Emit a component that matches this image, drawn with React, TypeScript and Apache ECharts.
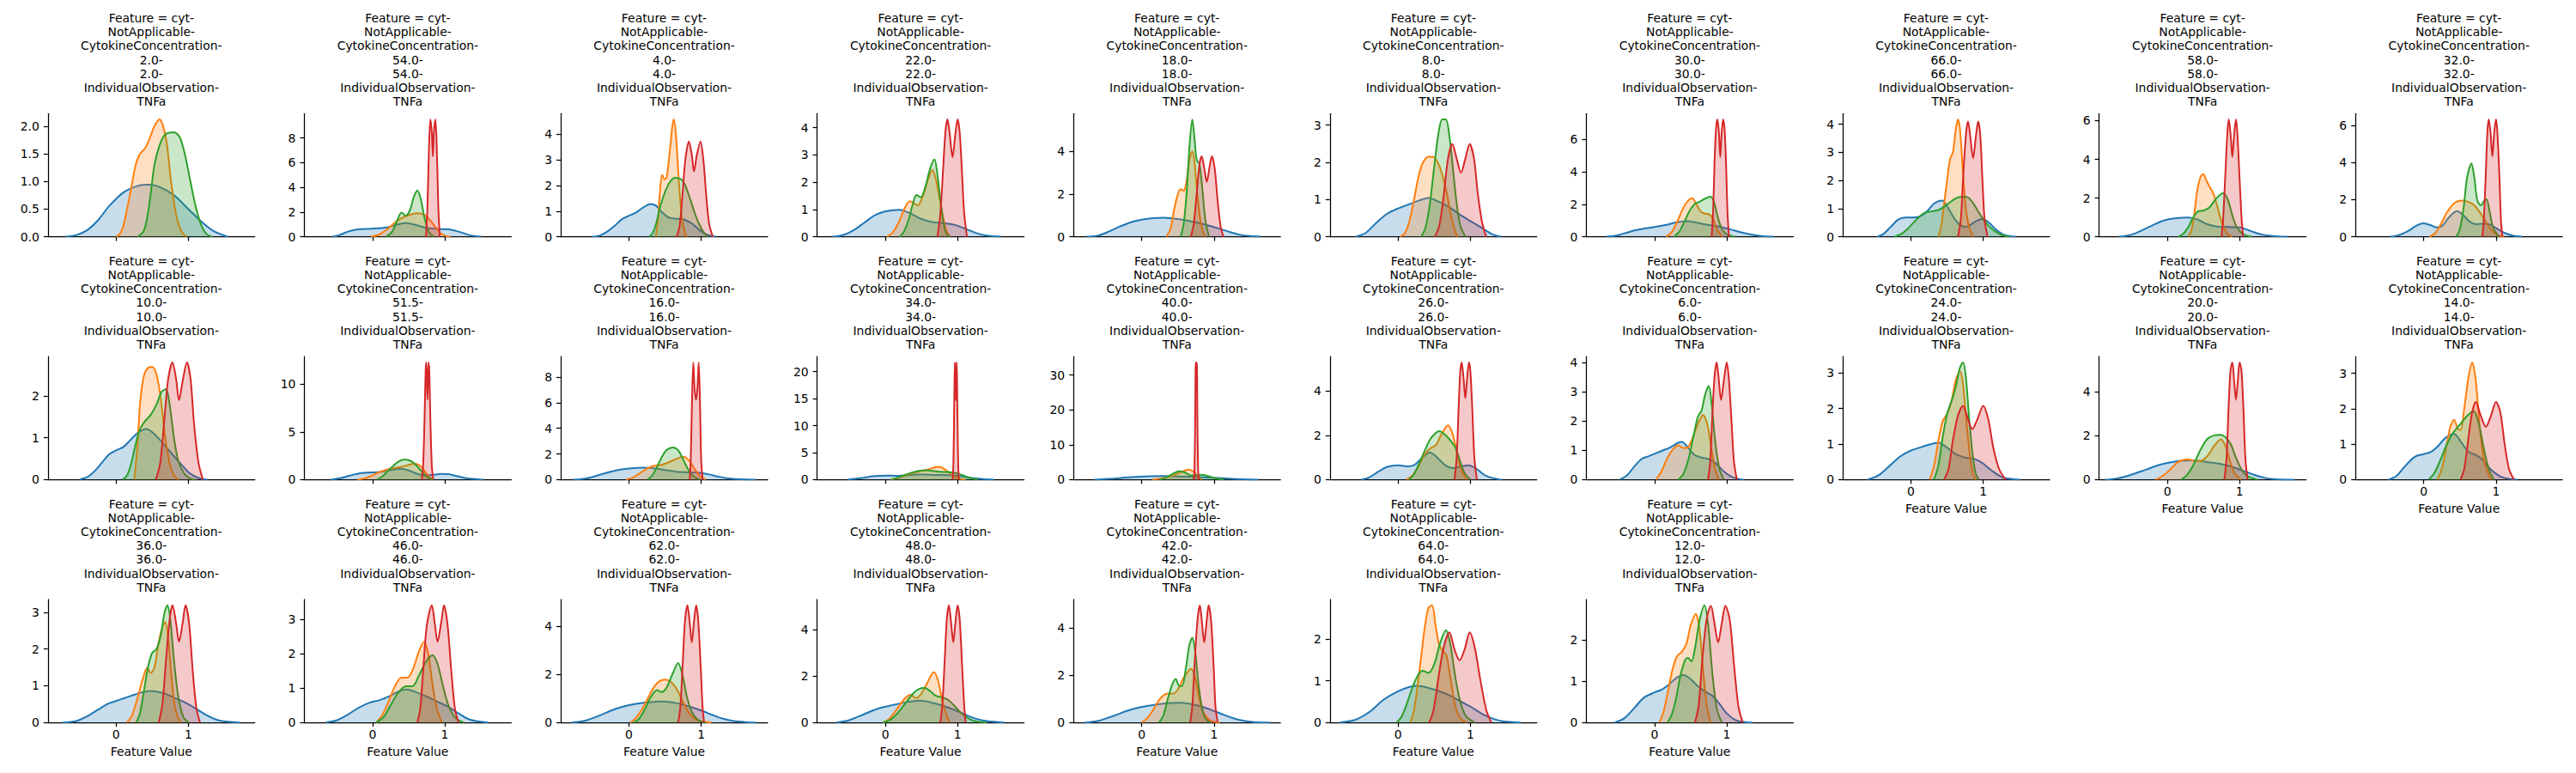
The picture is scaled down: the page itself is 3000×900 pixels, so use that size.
import React, { useEffect, useRef } from "react";
import * as echarts from "echarts";

type Pt = [number, number];

// ---- panel labels (CytokineConcentration), in facet order ----
const concentrations: string[] = [
  "2.0", "54.0", "4.0", "22.0", "18.0", "8.0", "30.0", "66.0", "58.0", "32.0",
  "10.0", "51.5", "16.0", "34.0", "40.0", "26.0", "6.0", "24.0", "20.0", "14.0",
  "36.0", "46.0", "62.0", "48.0", "42.0", "64.0", "12.0",
];

// y tick step per panel
const yTickSteps: number[] = [
  0.5, 2, 1, 1, 2, 1, 2, 1, 2, 2,
  1, 5, 2, 5, 10, 2, 1, 1, 2, 1,
  1, 1, 2, 2, 2, 1, 1,
];

const xTicks: number[] = [0, 1];

// ---- density curves: [x, density] ----
// 2.0
const blue_2: Pt[] = [[-0.7,0],[-0.55,0.03],[-0.4,0.12],[-0.25,0.3],[-0.1,0.55],[0.1,0.8],[0.3,0.92],[0.46,0.94],[0.6,0.9],[0.8,0.75],[1.0,0.5],[1.2,0.25],[1.35,0.1],[1.5,0.02],[1.55,0]];
const orange_2: Pt[] = [[0,0],[0.05,0.05],[0.1,0.2],[0.15,0.5],[0.2,0.82],[0.27,1.3],[0.33,1.5],[0.4,1.6],[0.47,1.8],[0.53,2.0],[0.6,2.12],[0.65,2.0],[0.7,1.7],[0.76,1.0],[0.83,0.4],[0.9,0.1],[0.97,0]];
const green_2: Pt[] = [[0.3,0],[0.38,0.1],[0.43,0.35],[0.48,0.8],[0.53,1.3],[0.6,1.65],[0.68,1.85],[0.8,1.89],[0.88,1.8],[0.95,1.5],[1.02,1.05],[1.1,0.55],[1.18,0.2],[1.25,0.05],[1.33,0]];
const red_2: Pt[] = [];
// 54.0
const blue_54: Pt[] = [[-0.55,0],[-0.45,0.15],[-0.35,0.4],[-0.2,0.6],[0,0.65],[0.2,0.75],[0.35,1.0],[0.47,1.1],[0.6,0.95],[0.75,0.7],[0.9,0.62],[1.05,0.6],[1.2,0.4],[1.35,0.12],[1.5,0]];
const orange_54: Pt[] = [[-0.02,0],[0.1,0.2],[0.2,0.6],[0.3,1.1],[0.4,1.5],[0.5,1.75],[0.62,1.9],[0.72,1.75],[0.8,1.3],[0.88,0.7],[0.95,0.25],[1.02,0.05],[1.08,0]];
const green_54: Pt[] = [[0.19,0],[0.27,0.4],[0.34,1.3],[0.4,1.95],[0.46,1.7],[0.52,2.2],[0.57,3.2],[0.62,3.75],[0.67,3.0],[0.72,1.5],[0.78,0.4],[0.85,0]];
const red_54: Pt[] = [[0.74,0],[0.76,2.5],[0.78,7],[0.8,9.5],[0.82,8.5],[0.835,6.5],[0.85,8.5],[0.87,9.5],[0.89,7],[0.91,2.5],[0.93,0]];
// 4.0
const blue_4: Pt[] = [[-0.51,0],[-0.4,0.05],[-0.3,0.2],[-0.2,0.42],[-0.1,0.68],[0,0.82],[0.1,0.95],[0.2,1.15],[0.3,1.28],[0.38,1.2],[0.46,0.95],[0.55,0.75],[0.68,0.7],[0.78,0.65],[0.88,0.5],[0.98,0.25],[1.08,0.08],[1.2,0]];
const orange_4: Pt[] = [[0.37,0],[0.4,0.6],[0.43,1.8],[0.46,2.42],[0.49,2.25],[0.52,2.3],[0.56,3.2],[0.6,4.3],[0.62,4.58],[0.65,4.0],[0.69,2.2],[0.73,0.8],[0.77,0.2],[0.8,0]];
const green_4: Pt[] = [[0.28,0],[0.33,0.15],[0.38,0.55],[0.43,1.15],[0.5,1.75],[0.57,2.15],[0.64,2.3],[0.72,2.25],[0.78,2.0],[0.85,1.45],[0.92,0.85],[0.98,0.45],[1.04,0.15],[1.1,0]];
const red_4: Pt[] = [[0.66,0],[0.7,0.4],[0.74,1.6],[0.78,3.0],[0.83,3.72],[0.87,3.2],[0.9,2.55],[0.94,3.2],[0.99,3.72],[1.03,3.0],[1.07,1.6],[1.11,0.5],[1.16,0]];
// 22.0
const blue_22: Pt[] = [[-0.73,0],[-0.6,0.05],[-0.45,0.22],[-0.3,0.5],[-0.15,0.78],[0,0.93],[0.2,0.99],[0.35,0.85],[0.5,0.65],[0.65,0.54],[0.8,0.5],[0.95,0.44],[1.1,0.3],[1.25,0.14],[1.4,0.04],[1.6,0]];
const orange_22: Pt[] = [[0.02,0],[0.1,0.15],[0.18,0.5],[0.26,1.0],[0.34,1.3],[0.4,1.22],[0.45,1.15],[0.52,1.5],[0.58,2.0],[0.65,2.45],[0.7,2.1],[0.75,1.4],[0.8,0.7],[0.85,0.2],[0.89,0]];
const green_22: Pt[] = [[0.2,0],[0.26,0.2],[0.32,0.6],[0.38,1.2],[0.43,1.53],[0.49,1.45],[0.55,1.8],[0.62,2.5],[0.68,2.84],[0.72,2.3],[0.76,1.4],[0.8,0.6],[0.84,0.15],[0.89,0]];
const red_22: Pt[] = [[0.72,0],[0.76,0.8],[0.8,2.5],[0.83,3.8],[0.86,4.3],[0.89,3.8],[0.93,2.92],[0.97,3.8],[1.0,4.3],[1.03,3.8],[1.06,2.4],[1.09,0.9],[1.13,0]];
// 18.0
const blue_18: Pt[] = [[-0.76,0],[-0.6,0.06],[-0.45,0.25],[-0.3,0.48],[-0.15,0.68],[0,0.8],[0.15,0.87],[0.3,0.89],[0.45,0.85],[0.6,0.78],[0.75,0.68],[0.9,0.55],[1.05,0.4],[1.2,0.24],[1.35,0.1],[1.5,0.03],[1.65,0]];
const orange_18: Pt[] = [[0.34,0],[0.4,0.4],[0.45,1.3],[0.5,2.0],[0.54,2.23],[0.58,2.15],[0.62,2.6],[0.66,3.6],[0.7,4.0],[0.73,3.5],[0.77,2.0],[0.81,0.8],[0.85,0.2],[0.88,0]];
const green_18: Pt[] = [[0.54,0],[0.58,0.6],[0.62,2.0],[0.66,4.2],[0.7,5.49],[0.73,4.6],[0.76,3.6],[0.8,3.4],[0.84,2.2],[0.88,0.8],[0.93,0]];
const red_18: Pt[] = [[0.68,0],[0.72,0.6],[0.76,2.0],[0.8,3.4],[0.83,3.77],[0.87,3.1],[0.9,2.57],[0.94,3.3],[0.97,3.77],[1.01,3.2],[1.05,1.7],[1.09,0.5],[1.13,0]];
// 8.0
const blue_8: Pt[] = [[-0.59,0],[-0.45,0.1],[-0.3,0.38],[-0.15,0.62],[0,0.76],[0.15,0.87],[0.3,0.98],[0.42,1.04],[0.55,0.95],[0.7,0.8],[0.85,0.6],[1.0,0.42],[1.15,0.25],[1.3,0.07],[1.43,0]];
const orange_8: Pt[] = [[0.03,0],[0.1,0.12],[0.16,0.45],[0.22,1.0],[0.28,1.6],[0.34,1.98],[0.42,2.15],[0.48,2.15],[0.56,1.95],[0.62,1.6],[0.68,1.1],[0.74,0.5],[0.78,0.2],[0.82,0]];
const green_8: Pt[] = [[0.32,0],[0.38,0.25],[0.44,0.9],[0.5,1.9],[0.56,2.8],[0.61,3.15],[0.66,3.15],[0.71,2.7],[0.76,1.8],[0.81,0.9],[0.86,0.3],[0.93,0]];
const red_8: Pt[] = [[0.51,0],[0.57,0.3],[0.63,1.1],[0.69,2.1],[0.75,2.49],[0.81,2.1],[0.87,1.72],[0.93,2.1],[0.99,2.49],[1.05,2.1],[1.1,1.2],[1.16,0.4],[1.22,0]];
// 30.0
const blue_30: Pt[] = [[-0.66,0],[-0.5,0.1],[-0.35,0.3],[-0.2,0.45],[0,0.6],[0.15,0.72],[0.3,0.88],[0.45,0.96],[0.6,0.85],[0.75,0.72],[0.9,0.62],[1.05,0.45],[1.2,0.27],[1.35,0.12],[1.5,0.03],[1.65,0]];
const orange_30: Pt[] = [[0.16,0],[0.24,0.3],[0.32,1.0],[0.4,1.8],[0.47,2.25],[0.52,2.37],[0.58,2.0],[0.64,1.55],[0.7,1.42],[0.76,1.38],[0.82,1.0],[0.87,0.4],[0.94,0]];
const green_30: Pt[] = [[0.27,0],[0.34,0.3],[0.41,0.9],[0.48,1.55],[0.55,2.0],[0.62,2.15],[0.7,2.35],[0.77,2.47],[0.82,2.2],[0.87,1.3],[0.93,0.5],[1.0,0.15],[1.11,0]];
const red_30: Pt[] = [[0.79,0],[0.81,1.5],[0.83,4.5],[0.85,6.6],[0.87,7.23],[0.89,6.5],[0.91,4.9],[0.93,6.5],[0.95,7.23],[0.97,6.6],[0.99,4.5],[1.01,1.5],[1.03,0]];
// 66.0
const blue_66: Pt[] = [[-0.47,0],[-0.38,0.1],[-0.28,0.35],[-0.18,0.6],[-0.08,0.68],[0.02,0.68],[0.12,0.72],[0.22,0.9],[0.32,1.18],[0.43,1.29],[0.52,1.0],[0.6,0.65],[0.68,0.42],[0.76,0.35],[0.84,0.45],[0.92,0.58],[0.99,0.63],[1.08,0.5],[1.18,0.25],[1.3,0.06],[1.45,0]];
const orange_66: Pt[] = [[0.38,0],[0.42,0.4],[0.46,1.2],[0.5,2.0],[0.54,2.75],[0.58,3.0],[0.62,3.8],[0.65,4.17],[0.68,3.8],[0.72,2.3],[0.76,1.0],[0.81,0.3],[0.86,0]];
const green_66: Pt[] = [[-0.23,0],[-0.12,0.12],[-0.02,0.35],[0.08,0.62],[0.18,0.84],[0.28,0.9],[0.38,0.95],[0.48,1.1],[0.58,1.3],[0.68,1.42],[0.77,1.42],[0.86,1.2],[0.94,0.86],[1.02,0.55],[1.12,0.28],[1.24,0.08],[1.36,0]];
const red_66: Pt[] = [[0.65,0],[0.69,0.6],[0.72,2.0],[0.76,3.6],[0.79,4.1],[0.82,3.6],[0.86,2.8],[0.9,3.6],[0.93,4.1],[0.96,3.6],[0.99,2.0],[1.02,0.6],[1.06,0]];
// 58.0
const blue_58: Pt[] = [[-0.67,0],[-0.5,0.1],[-0.35,0.33],[-0.2,0.6],[-0.05,0.84],[0.1,0.95],[0.29,0.99],[0.42,0.88],[0.55,0.65],[0.7,0.52],[0.85,0.5],[1.0,0.48],[1.15,0.3],[1.3,0.12],[1.45,0.04],[1.66,0]];
const orange_58: Pt[] = [[0.29,0],[0.33,0.3],[0.37,1.1],[0.41,2.3],[0.46,3.1],[0.5,3.24],[0.54,2.9],[0.59,2.55],[0.64,2.2],[0.69,1.6],[0.74,0.9],[0.8,0.35],[0.85,0.1],[0.9,0]];
const green_58: Pt[] = [[0.15,0],[0.22,0.15],[0.29,0.5],[0.35,0.95],[0.42,1.3],[0.5,1.35],[0.58,1.5],[0.66,1.9],[0.74,2.2],[0.78,2.25],[0.84,1.9],[0.9,1.1],[0.96,0.5],[1.04,0.15],[1.17,0]];
const red_58: Pt[] = [[0.75,0],[0.77,0.8],[0.8,3.0],[0.83,5.3],[0.85,6.06],[0.875,5.3],[0.9,4.12],[0.925,5.3],[0.95,6.06],[0.97,5.3],[1.0,3.0],[1.03,0.8],[1.05,0]];
// 32.0
const blue_32: Pt[] = [[-0.46,0],[-0.35,0.08],[-0.22,0.3],[-0.1,0.6],[0,0.72],[0.1,0.62],[0.18,0.5],[0.26,0.6],[0.35,1.05],[0.46,1.38],[0.55,1.15],[0.64,0.8],[0.72,0.68],[0.82,0.7],[0.92,0.65],[1.02,0.42],[1.12,0.2],[1.24,0.05],[1.36,0]];
const orange_32: Pt[] = [[0.08,0],[0.16,0.2],[0.24,0.7],[0.32,1.3],[0.42,1.8],[0.53,1.95],[0.62,1.88],[0.7,1.7],[0.78,1.3],[0.86,0.8],[0.94,0.35],[1.02,0.1],[1.11,0]];
const green_32: Pt[] = [[0.45,0],[0.5,0.4],[0.55,1.5],[0.6,3.2],[0.66,3.96],[0.7,3.2],[0.74,2.0],[0.79,1.69],[0.84,1.95],[0.87,2.02],[0.91,1.4],[0.96,0.5],[1.04,0]];
const red_32: Pt[] = [[0.81,0],[0.83,0.8],[0.86,3.5],[0.88,5.6],[0.9,6.33],[0.925,5.6],[0.95,4.32],[0.975,5.6],[1.0,6.33],[1.02,5.6],[1.045,3.5],[1.07,0.8],[1.09,0]];
// 10.0
const blue_10: Pt[] = [[-0.51,0],[-0.4,0.06],[-0.3,0.2],[-0.2,0.4],[-0.1,0.6],[0,0.7],[0.1,0.78],[0.2,0.95],[0.3,1.12],[0.42,1.21],[0.52,1.1],[0.62,0.92],[0.72,0.72],[0.82,0.52],[0.92,0.33],[1.02,0.15],[1.14,0.04],[1.26,0]];
const orange_10: Pt[] = [[0.25,0],[0.29,0.7],[0.33,1.8],[0.38,2.45],[0.44,2.67],[0.5,2.69],[0.56,2.5],[0.62,1.9],[0.68,1.0],[0.74,0.4],[0.8,0.1],[0.86,0]];
const green_10: Pt[] = [[0.09,0],[0.15,0.1],[0.21,0.4],[0.27,0.85],[0.33,1.2],[0.4,1.4],[0.48,1.55],[0.56,1.8],[0.63,2.1],[0.69,2.16],[0.74,1.8],[0.8,1.0],[0.86,0.45],[0.94,0.15],[1.02,0.03],[1.09,0]];
const red_10: Pt[] = [[0.55,0],[0.61,0.4],[0.67,1.5],[0.72,2.4],[0.78,2.8],[0.83,2.4],[0.87,1.9],[0.92,2.35],[0.98,2.8],[1.03,2.4],[1.08,1.3],[1.14,0.4],[1.2,0]];
// 51.5
const blue_51_5: Pt[] = [[-0.58,0],[-0.45,0.15],[-0.3,0.45],[-0.15,0.68],[0,0.75],[0.15,0.85],[0.28,1.05],[0.4,1.14],[0.52,0.9],[0.62,0.6],[0.73,0.45],[0.85,0.5],[0.95,0.6],[1.05,0.58],[1.15,0.4],[1.3,0.15],[1.53,0]];
const orange_51_5: Pt[] = [[-0.21,0],[-0.1,0.15],[0,0.45],[0.1,0.8],[0.2,1.05],[0.3,1.2],[0.4,1.35],[0.5,1.55],[0.58,1.65],[0.66,1.45],[0.72,0.9],[0.77,0.4],[0.82,0]];
const green_51_5: Pt[] = [[0.06,0],[0.13,0.3],[0.2,0.8],[0.28,1.4],[0.36,1.9],[0.45,2.1],[0.53,1.95],[0.6,1.55],[0.67,0.95],[0.73,0.45],[0.79,0.15],[0.85,0]];
const red_51_5: Pt[] = [[0.68,0],[0.7,1.5],[0.72,6.5],[0.735,11.5],[0.745,12.3],[0.76,8.4],[0.775,12.3],[0.785,11.5],[0.8,6.5],[0.82,1.5],[0.84,0]];
// 16.0
const blue_16: Pt[] = [[-0.77,0],[-0.6,0.08],[-0.45,0.3],[-0.3,0.55],[-0.15,0.75],[0,0.86],[0.2,0.93],[0.35,0.88],[0.5,0.75],[0.65,0.62],[0.8,0.57],[0.95,0.55],[1.1,0.42],[1.25,0.22],[1.4,0.08],[1.55,0.02],[1.75,0]];
const orange_16: Pt[] = [[-0.04,0],[0.05,0.15],[0.15,0.5],[0.25,0.85],[0.35,1.08],[0.45,1.15],[0.55,1.35],[0.65,1.6],[0.75,1.78],[0.83,1.5],[0.9,0.9],[0.97,0.35],[1.06,0]];
const green_16: Pt[] = [[0.26,0],[0.32,0.3],[0.38,0.9],[0.45,1.7],[0.52,2.3],[0.61,2.51],[0.68,2.3],[0.74,1.7],[0.8,1.0],[0.86,0.45],[0.92,0.15],[0.99,0]];
const red_16: Pt[] = [[0.84,0],[0.855,1.5],[0.87,5.5],[0.89,9.15],[0.91,7.0],[0.928,6.22],[0.946,7.0],[0.966,9.15],[0.985,5.5],[1.0,1.5],[1.02,0]];
// 34.0
const blue_34: Pt[] = [[-0.52,0],[-0.35,0.25],[-0.15,0.65],[0,0.75],[0.15,0.7],[0.3,0.8],[0.45,0.95],[0.6,0.9],[0.75,0.85],[0.9,0.8],[1.05,0.6],[1.2,0.3],[1.35,0.1],[1.5,0]];
const orange_34: Pt[] = [[0.07,0],[0.2,0.4],[0.3,0.9],[0.4,1.3],[0.5,1.6],[0.6,1.9],[0.68,2.25],[0.74,2.37],[0.8,2.1],[0.88,1.3],[0.95,0.6],[1.03,0.15],[1.11,0]];
const green_34: Pt[] = [[0.08,0],[0.18,0.4],[0.28,0.9],[0.38,1.35],[0.48,1.65],[0.56,1.74],[0.66,1.6],[0.76,1.45],[0.86,1.4],[0.96,1.25],[1.06,0.85],[1.16,0.35],[1.28,0]];
const red_34: Pt[] = [[0.93,0],[0.94,2],[0.95,10],[0.958,19],[0.963,21.7],[0.975,14.7],[0.987,21.7],[0.992,19],[1.0,10],[1.01,2],[1.02,0]];
// 40.0
const blue_40: Pt[] = [[-0.65,0],[-0.4,0.3],[-0.15,0.7],[0.1,0.95],[0.3,1.0],[0.5,0.9],[0.75,0.75],[1.0,0.55],[1.2,0.3],[1.4,0.1],[1.61,0]];
const orange_40: Pt[] = [[0.15,0],[0.3,0.5],[0.45,1.3],[0.55,2.2],[0.65,2.85],[0.72,2.2],[0.78,0.8],[0.83,0]];
const green_40: Pt[] = [[0.25,0],[0.35,0.7],[0.45,1.9],[0.52,2.45],[0.6,2.0],[0.68,1.2],[0.75,1.2],[0.83,1.4],[0.92,1.0],[1.02,0.35],[1.14,0]];
const red_40: Pt[] = [[0.72,0],[0.73,3],[0.74,18],[0.745,32],[0.75,33.6],[0.755,30],[0.76,33.6],[0.765,32],[0.77,18],[0.78,3],[0.79,0]];
// 26.0
const blue_26: Pt[] = [[-0.51,0],[-0.4,0.1],[-0.28,0.35],[-0.15,0.58],[0,0.65],[0.12,0.6],[0.22,0.65],[0.32,0.95],[0.44,1.23],[0.54,1.0],[0.64,0.68],[0.76,0.52],[0.88,0.6],[0.97,0.65],[1.08,0.5],[1.2,0.2],[1.32,0.06],[1.44,0]];
const orange_26: Pt[] = [[0.12,0],[0.2,0.2],[0.28,0.6],[0.36,1.1],[0.44,1.4],[0.52,1.55],[0.6,2.05],[0.69,2.45],[0.76,2.0],[0.82,1.1],[0.88,0.4],[0.95,0]];
const green_26: Pt[] = [[0.15,0],[0.22,0.25],[0.3,0.8],[0.38,1.4],[0.46,1.9],[0.57,2.19],[0.66,2.0],[0.74,1.7],[0.8,1.4],[0.86,0.8],[0.92,0.3],[1.0,0]];
const red_26: Pt[] = [[0.78,0],[0.81,1.0],[0.84,3.5],[0.86,4.9],[0.88,5.3],[0.905,4.6],[0.93,3.68],[0.955,4.6],[0.98,5.3],[1.0,4.9],[1.025,3.3],[1.055,1.0],[1.09,0]];
// 6.0
const blue_6: Pt[] = [[-0.48,0],[-0.38,0.15],[-0.28,0.45],[-0.18,0.7],[-0.08,0.8],[0.02,0.9],[0.12,1.0],[0.22,1.1],[0.32,1.25],[0.38,1.29],[0.46,1.1],[0.55,0.85],[0.65,0.75],[0.75,0.7],[0.85,0.55],[0.95,0.3],[1.05,0.12],[1.15,0.03],[1.23,0]];
const orange_6: Pt[] = [[0.02,0],[0.1,0.3],[0.18,0.75],[0.26,1.05],[0.33,1.17],[0.4,1.08],[0.46,1.1],[0.53,1.45],[0.6,1.9],[0.67,2.2],[0.73,1.9],[0.79,1.0],[0.84,0.35],[0.89,0]];
const green_6: Pt[] = [[0.33,0],[0.4,0.2],[0.47,0.7],[0.54,1.5],[0.6,2.15],[0.65,2.35],[0.7,2.9],[0.75,3.2],[0.79,2.6],[0.84,1.3],[0.9,0.35],[0.96,0]];
const red_6: Pt[] = [[0.74,0],[0.77,0.6],[0.8,2.2],[0.83,3.5],[0.86,4.0],[0.89,3.4],[0.92,2.72],[0.96,3.4],[1.0,4.0],[1.03,3.4],[1.07,1.8],[1.1,0.6],[1.14,0]];
// 24.0
const blue_24: Pt[] = [[-0.6,0],[-0.45,0.12],[-0.3,0.38],[-0.15,0.65],[0,0.82],[0.15,0.92],[0.28,1.0],[0.38,1.04],[0.5,0.9],[0.62,0.72],[0.75,0.62],[0.88,0.58],[1.0,0.45],[1.12,0.25],[1.25,0.08],[1.38,0.02],[1.51,0]];
const orange_24: Pt[] = [[0.26,0],[0.32,0.4],[0.38,1.1],[0.44,1.65],[0.5,1.85],[0.56,2.2],[0.62,2.8],[0.68,3.05],[0.72,2.7],[0.77,1.6],[0.82,0.6],[0.86,0.15],[0.9,0]];
const green_24: Pt[] = [[0.32,0],[0.38,0.4],[0.44,1.2],[0.5,1.85],[0.56,2.2],[0.62,2.6],[0.67,3.1],[0.72,3.3],[0.76,2.9],[0.81,1.6],[0.86,0.6],[0.9,0.15],[0.94,0]];
const red_24: Pt[] = [[0.46,0],[0.52,0.3],[0.58,1.1],[0.65,1.8],[0.72,2.08],[0.79,1.7],[0.85,1.42],[0.92,1.7],[1.0,2.08],[1.07,1.7],[1.14,0.9],[1.22,0.3],[1.31,0]];
// 20.0
const blue_20: Pt[] = [[-0.86,0],[-0.7,0.05],[-0.5,0.22],[-0.3,0.45],[-0.1,0.68],[0.1,0.82],[0.3,0.88],[0.45,0.85],[0.6,0.78],[0.75,0.7],[0.9,0.58],[1.05,0.4],[1.2,0.22],[1.35,0.08],[1.5,0.02],[1.76,0]];
const orange_20: Pt[] = [[-0.16,0],[-0.05,0.2],[0.05,0.5],[0.15,0.8],[0.28,0.93],[0.38,0.85],[0.46,0.85],[0.56,1.1],[0.65,1.55],[0.74,1.84],[0.81,1.5],[0.87,0.8],[0.93,0.3],[1.02,0]];
const green_20: Pt[] = [[0.19,0],[0.27,0.2],[0.35,0.6],[0.45,1.3],[0.55,1.85],[0.65,2.02],[0.73,2.04],[0.8,1.95],[0.88,1.6],[0.95,1.0],[1.02,0.5],[1.1,0.18],[1.25,0]];
const red_20: Pt[] = [[0.79,0],[0.82,1.0],[0.85,3.5],[0.875,5.0],[0.9,5.35],[0.925,4.5],[0.95,3.64],[0.975,4.5],[1.0,5.35],[1.025,5.0],[1.05,3.5],[1.08,1.0],[1.11,0]];
// 14.0
const blue_14: Pt[] = [[-0.49,0],[-0.38,0.1],[-0.25,0.4],[-0.12,0.65],[0,0.72],[0.1,0.78],[0.2,0.95],[0.3,1.18],[0.42,1.29],[0.52,1.05],[0.62,0.78],[0.72,0.7],[0.82,0.55],[0.92,0.3],[1.05,0.1],[1.18,0.02],[1.3,0]];
const orange_14: Pt[] = [[0.19,0],[0.25,0.3],[0.31,0.9],[0.37,1.5],[0.42,1.69],[0.47,1.45],[0.51,1.4],[0.56,2.0],[0.62,2.9],[0.67,3.31],[0.72,2.8],[0.78,1.4],[0.84,0.5],[0.93,0]];
const green_14: Pt[] = [[0.07,0],[0.15,0.2],[0.23,0.55],[0.31,0.95],[0.4,1.3],[0.5,1.55],[0.6,1.8],[0.69,1.93],[0.76,1.6],[0.83,0.9],[0.9,0.3],[0.97,0]];
const red_14: Pt[] = [[0.51,0],[0.56,0.3],[0.62,1.2],[0.67,1.9],[0.72,2.19],[0.79,1.8],[0.86,1.49],[0.93,1.8],[1.0,2.19],[1.06,1.9],[1.12,1.0],[1.18,0.3],[1.25,0]];
// 36.0
const blue_36: Pt[] = [[-0.74,0],[-0.55,0.04],[-0.4,0.17],[-0.25,0.35],[-0.1,0.52],[0.05,0.62],[0.2,0.72],[0.35,0.82],[0.49,0.86],[0.65,0.8],[0.8,0.68],[0.95,0.55],[1.1,0.38],[1.25,0.2],[1.4,0.07],[1.55,0.02],[1.71,0]];
const orange_36: Pt[] = [[0.15,0],[0.22,0.2],[0.3,0.7],[0.37,1.2],[0.43,1.49],[0.48,1.35],[0.53,1.5],[0.59,2.2],[0.64,2.6],[0.68,2.74],[0.72,2.3],[0.76,1.4],[0.8,0.6],[0.85,0.15],[0.9,0]];
const green_36: Pt[] = [[0.28,0],[0.33,0.25],[0.38,0.8],[0.44,1.5],[0.5,1.9],[0.56,2.0],[0.62,2.4],[0.67,3.0],[0.71,3.19],[0.75,2.8],[0.8,1.7],[0.86,0.7],[0.93,0.15],[1.01,0]];
const red_36: Pt[] = [[0.59,0],[0.64,0.5],[0.69,1.7],[0.74,2.8],[0.78,3.19],[0.83,2.7],[0.87,2.2],[0.92,2.7],[0.96,3.19],[1.01,2.7],[1.06,1.4],[1.11,0.4],[1.16,0]];
// 46.0
const blue_46: Pt[] = [[-0.65,0],[-0.5,0.06],[-0.35,0.22],[-0.2,0.42],[-0.05,0.57],[0.1,0.65],[0.25,0.78],[0.38,0.92],[0.47,0.96],[0.6,0.88],[0.75,0.75],[0.9,0.6],[1.05,0.45],[1.2,0.25],[1.35,0.08],[1.6,0]];
const orange_46: Pt[] = [[0.05,0],[0.13,0.2],[0.22,0.6],[0.31,1.05],[0.4,1.3],[0.48,1.3],[0.56,1.55],[0.64,2.05],[0.71,2.34],[0.77,2.0],[0.83,1.1],[0.89,0.4],[0.96,0]];
const green_46: Pt[] = [[0.05,0],[0.15,0.15],[0.25,0.5],[0.35,0.85],[0.46,1.05],[0.55,1.05],[0.65,1.4],[0.75,1.8],[0.83,1.95],[0.9,1.7],[0.97,1.1],[1.05,0.5],[1.14,0.15],[1.26,0]];
const red_46: Pt[] = [[0.62,0],[0.66,0.4],[0.7,1.5],[0.75,2.8],[0.82,3.4],[0.86,2.9],[0.9,2.34],[0.95,2.9],[0.99,3.4],[1.04,2.8],[1.09,1.5],[1.14,0.4],[1.19,0]];
// 62.0
const blue_62: Pt[] = [[-0.79,0],[-0.6,0.08],[-0.4,0.3],[-0.2,0.55],[0,0.72],[0.2,0.82],[0.4,0.87],[0.55,0.86],[0.7,0.78],[0.85,0.65],[1.0,0.5],[1.15,0.32],[1.3,0.16],[1.45,0.06],[1.6,0.02],[1.76,0]];
const orange_62: Pt[] = [[0.02,0],[0.1,0.2],[0.18,0.55],[0.26,1.0],[0.34,1.45],[0.42,1.72],[0.5,1.79],[0.58,1.7],[0.66,1.4],[0.74,0.9],[0.82,0.45],[0.9,0.18],[1.0,0.05],[1.14,0]];
const green_62: Pt[] = [[0.07,0],[0.14,0.15],[0.22,0.55],[0.3,1.05],[0.39,1.35],[0.45,1.27],[0.52,1.45],[0.6,2.0],[0.68,2.47],[0.74,2.0],[0.8,1.1],[0.87,0.45],[0.95,0.12],[1.06,0]];
const red_62: Pt[] = [[0.68,0],[0.71,0.6],[0.74,2.2],[0.775,4.2],[0.81,4.88],[0.84,4.2],[0.87,3.33],[0.9,4.2],[0.93,4.88],[0.96,4.2],[0.995,2.2],[1.02,0.6],[1.04,0]];
// 48.0
const blue_48: Pt[] = [[-0.67,0],[-0.5,0.1],[-0.3,0.35],[-0.1,0.6],[0.1,0.75],[0.3,0.88],[0.48,0.94],[0.65,0.85],[0.8,0.72],[0.95,0.55],[1.1,0.35],[1.25,0.17],[1.4,0.06],[1.64,0]];
const orange_48: Pt[] = [[-0.03,0],[0.05,0.15],[0.13,0.45],[0.22,0.85],[0.3,1.12],[0.35,1.19],[0.43,1.05],[0.5,1.25],[0.58,1.7],[0.67,2.17],[0.73,1.8],[0.79,0.9],[0.85,0.3],[0.89,0]];
const green_48: Pt[] = [[-0.03,0],[0.07,0.12],[0.17,0.4],[0.27,0.8],[0.37,1.2],[0.46,1.43],[0.54,1.49],[0.62,1.35],[0.7,1.15],[0.8,1.07],[0.88,0.95],[0.96,0.7],[1.05,0.4],[1.15,0.18],[1.25,0.05],[1.4,0]];
const red_48: Pt[] = [[0.76,0],[0.79,0.8],[0.82,2.6],[0.85,4.4],[0.88,5.04],[0.91,4.3],[0.94,3.45],[0.97,4.3],[1.0,5.04],[1.03,4.4],[1.06,2.6],[1.09,0.8],[1.11,0]];
// 42.0
const blue_42: Pt[] = [[-0.79,0],[-0.6,0.07],[-0.4,0.27],[-0.2,0.5],[0,0.66],[0.2,0.76],[0.35,0.82],[0.51,0.84],[0.65,0.8],[0.8,0.7],[0.95,0.55],[1.1,0.37],[1.25,0.2],[1.4,0.08],[1.55,0.02],[1.78,0]];
const orange_42: Pt[] = [[0,0],[0.08,0.2],[0.16,0.55],[0.24,0.95],[0.3,1.15],[0.36,1.23],[0.43,1.22],[0.5,1.4],[0.58,1.9],[0.65,2.2],[0.68,2.27],[0.73,2.0],[0.79,1.1],[0.85,0.45],[0.93,0.12],[1.0,0.03],[1.08,0]];
const green_42: Pt[] = [[0.24,0],[0.3,0.3],[0.36,1.0],[0.42,1.6],[0.47,1.85],[0.52,1.55],[0.56,1.55],[0.61,2.3],[0.66,3.3],[0.7,3.59],[0.74,3.0],[0.79,1.5],[0.85,0.4],[0.9,0.1],[0.95,0]];
const red_42: Pt[] = [[0.67,0],[0.7,0.7],[0.73,2.4],[0.77,4.3],[0.805,4.97],[0.835,4.2],[0.865,3.39],[0.895,4.2],[0.925,4.97],[0.96,4.3],[0.995,2.4],[1.02,0.7],[1.05,0]];
// 64.0
const blue_64: Pt[] = [[-0.81,0],[-0.6,0.06],[-0.4,0.25],[-0.2,0.55],[0,0.75],[0.15,0.85],[0.26,0.88],[0.4,0.84],[0.55,0.76],[0.7,0.66],[0.85,0.52],[1.0,0.38],[1.15,0.22],[1.3,0.1],[1.45,0.03],[1.7,0]];
const orange_64: Pt[] = [[0.17,0],[0.22,0.3],[0.27,0.9],[0.32,1.6],[0.37,2.3],[0.42,2.75],[0.47,2.81],[0.52,2.3],[0.57,1.85],[0.62,1.72],[0.67,1.6],[0.73,1.0],[0.79,0.4],[0.86,0.1],[0.95,0]];
const green_64: Pt[] = [[-0.02,0],[0.05,0.15],[0.12,0.45],[0.2,0.85],[0.28,1.15],[0.34,1.24],[0.42,1.19],[0.5,1.4],[0.58,1.9],[0.66,2.21],[0.72,1.9],[0.79,1.1],[0.86,0.5],[0.94,0.15],[1.06,0]];
const red_64: Pt[] = [[0.43,0],[0.49,0.3],[0.56,1.1],[0.63,1.8],[0.71,2.16],[0.78,1.75],[0.85,1.49],[0.92,1.75],[0.99,2.16],[1.06,1.8],[1.14,1.0],[1.22,0.3],[1.29,0]];
// 12.0
const blue_12: Pt[] = [[-0.55,0],[-0.42,0.1],[-0.28,0.35],[-0.15,0.6],[0,0.73],[0.1,0.8],[0.2,0.92],[0.3,1.08],[0.4,1.15],[0.5,1.05],[0.6,0.88],[0.7,0.75],[0.8,0.65],[0.9,0.45],[1.0,0.22],[1.12,0.06],[1.25,0.01],[1.36,0]];
const orange_12: Pt[] = [[0.07,0],[0.13,0.3],[0.19,0.8],[0.25,1.3],[0.31,1.6],[0.38,1.72],[0.44,1.9],[0.5,2.35],[0.57,2.63],[0.62,2.3],[0.67,1.3],[0.72,0.45],[0.77,0]];
const green_12: Pt[] = [[0.18,0],[0.24,0.2],[0.3,0.6],[0.36,1.15],[0.42,1.5],[0.46,1.57],[0.51,1.48],[0.56,1.8],[0.62,2.45],[0.69,2.84],[0.74,2.4],[0.8,1.2],[0.86,0.35],[0.93,0]];
const red_12: Pt[] = [[0.56,0],[0.61,0.4],[0.66,1.5],[0.72,2.5],[0.78,2.83],[0.83,2.4],[0.88,1.94],[0.93,2.4],[0.98,2.83],[1.04,2.5],[1.1,1.4],[1.16,0.4],[1.22,0]];

const blueCurves: Pt[][] = [blue_2, blue_54, blue_4, blue_22, blue_18, blue_8, blue_30, blue_66, blue_58, blue_32, blue_10, blue_51_5, blue_16, blue_34, blue_40, blue_26, blue_6, blue_24, blue_20, blue_14, blue_36, blue_46, blue_62, blue_48, blue_42, blue_64, blue_12];
const orangeCurves: Pt[][] = [orange_2, orange_54, orange_4, orange_22, orange_18, orange_8, orange_30, orange_66, orange_58, orange_32, orange_10, orange_51_5, orange_16, orange_34, orange_40, orange_26, orange_6, orange_24, orange_20, orange_14, orange_36, orange_46, orange_62, orange_48, orange_42, orange_64, orange_12];
const greenCurves: Pt[][] = [green_2, green_54, green_4, green_22, green_18, green_8, green_30, green_66, green_58, green_32, green_10, green_51_5, green_16, green_34, green_40, green_26, green_6, green_24, green_20, green_14, green_36, green_46, green_62, green_48, green_42, green_64, green_12];
const redCurves: Pt[][] = [red_2, red_54, red_4, red_22, red_18, red_8, red_30, red_66, red_58, red_32, red_10, red_51_5, red_16, red_34, red_40, red_26, red_6, red_24, red_20, red_14, red_36, red_46, red_62, red_48, red_42, red_64, red_12];

const COLORS = ["#1f77b4", "#ff7f0e", "#2ca02c", "#d62728"];
const FONT = "DejaVu Sans";
const FS = 13.9;

function buildOption() {
  const grids: any[] = [];
  const xAxes: any[] = [];
  const yAxes: any[] = [];
  const series: any[] = [];
  const graphics: any[] = [];
  const allCurves = [blueCurves, orangeCurves, greenCurves, redCurves];
  const axisLine = { show: true, onZero: false, lineStyle: { color: "#000", width: 1.25 } };
  const tickStyle = { color: "#000", width: 1.25 };

  for (let i = 0; i < concentrations.length; i++) {
    const r = Math.floor(i / 10);
    const c = i % 10;
    const left = 55.8 + 298.6 * c;
    const top = 132.3 + 282.8 * r;
    const width = 241;
    const height = 143.3;
    grids.push({ left, top, width, height, containLabel: false });

    const showX = r === 2 || (r === 1 && c >= 7);
    xAxes.push({
      gridIndex: i,
      type: "value",
      min: -0.945,
      max: 1.92,
      axisLine,
      axisTick: { show: true, customValues: xTicks, length: 5, lineStyle: tickStyle },
      axisLabel: { show: showX, customValues: xTicks, margin: 7, fontSize: FS, fontFamily: FONT, color: "#000" },
      splitLine: { show: false },
      name: showX ? "Feature Value" : "",
      nameLocation: "middle",
      nameGap: 27,
      nameTextStyle: { fontSize: FS, fontFamily: FONT, color: "#000" },
    });

    let peak = 0;
    for (const set of allCurves) for (const p of set[i]) peak = Math.max(peak, p[1]);
    const ymax = peak * 1.05;
    const step = yTickSteps[i];
    const yt: number[] = [];
    for (let k = 0; k * step <= ymax + 1e-9; k++) yt.push(Math.round(k * step * 1000) / 1000);
    yAxes.push({
      gridIndex: i,
      type: "value",
      min: 0,
      max: ymax,
      axisLine,
      axisTick: { show: true, customValues: yt, length: 5, lineStyle: tickStyle },
      axisLabel: {
        show: true,
        customValues: yt,
        margin: 10,
        fontSize: FS,
        fontFamily: FONT,
        color: "#000",
        formatter: (v: number) => (step < 1 ? v.toFixed(1) : String(Math.round(v))),
      },
      splitLine: { show: false },
    });

    allCurves.forEach((set, k) => {
      const data = set[i];
      if (!data.length) return;
      series.push({
        type: "line",
        xAxisIndex: i,
        yAxisIndex: i,
        data,
        symbol: "none",
        showSymbol: false,
        smooth: 0.3,
        silent: true,
        z: 2 + k,
        lineStyle: { color: COLORS[k], width: 2 },
        itemStyle: { color: COLORS[k] },
        areaStyle: { color: COLORS[k], opacity: 0.25 },
      });
    });

    const title =
      "Feature = cyt-\nNotApplicable-\nCytokineConcentration-\n" +
      concentrations[i] + "-\n" + concentrations[i] + "-\nIndividualObservation-\nTNFa";
    graphics.push({
      type: "text",
      x: left + width / 2,
      y: top - 119.4,
      silent: true,
      style: {
        text: title,
        fontSize: FS,
        fontFamily: FONT,
        lineHeight: 16.2,
        fill: "#000",
        align: "center",
        textAlign: "center",
        verticalAlign: "top",
        textVerticalAlign: "top",
      },
    });
  }

  return {
    animation: false,
    backgroundColor: "#fff",
    grid: grids,
    xAxis: xAxes,
    yAxis: yAxes,
    series,
    graphic: { elements: graphics },
  };
}

export default function App() {
  const ref = useRef<HTMLDivElement>(null);
  useEffect(() => {
    document.body.style.margin = "0";
    document.body.style.overflow = "hidden";
    if (!ref.current) return;
    const chart = echarts.init(ref.current, undefined, { renderer: "svg" });
    chart.setOption(buildOption() as any);
    return () => chart.dispose();
  }, []);
  return <div ref={ref} style={{ width: 3000, height: 900, background: "#fff" }} />;
}
